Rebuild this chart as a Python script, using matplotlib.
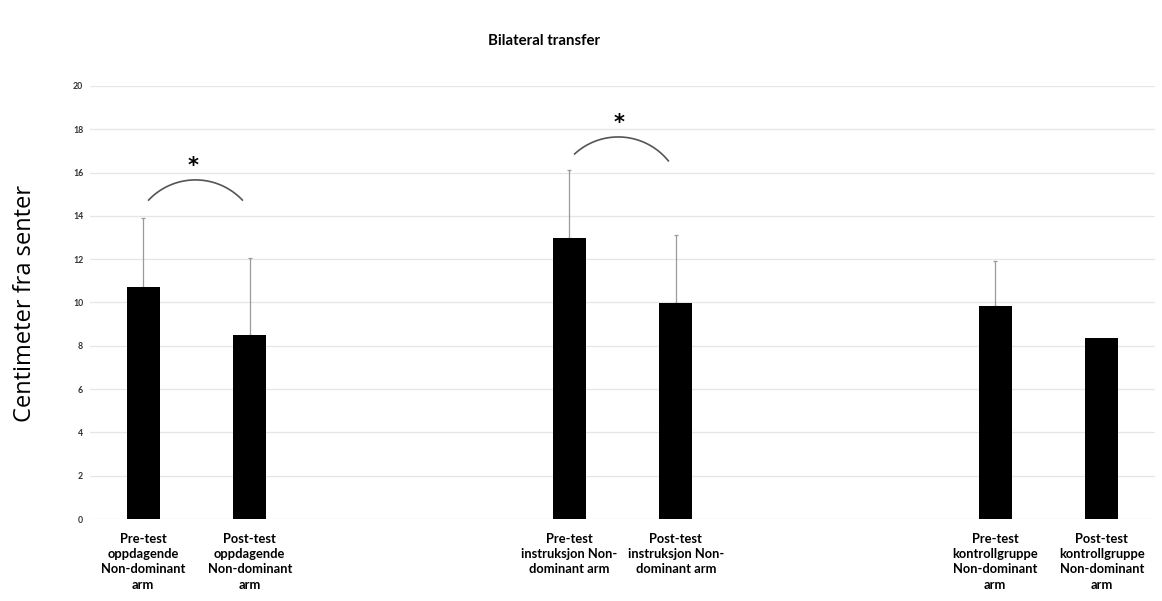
import numpy as np
import matplotlib
matplotlib.use("Agg")
import matplotlib.pyplot as plt

# Category slots (Excel-style layout with empty gaps between groups)
slot_labels = [
    "Pre-test\noppdagende\nNon-dominant\narm",
    "Post-test\noppdagende\nNon-dominant\narm",
    "", "",
    "Pre-test\ninstruksjon Non-\ndominant arm",
    "Post-test\ninstruksjon Non-\ndominant arm",
    "", "",
    "Pre-test\nkontrollgruppe\nNon-dominant\narm",
    "Post-test\nkontrollgruppe\nNon-dominant\narm",
]
means = [10.72, 8.50, np.nan, np.nan, 12.98, 9.98, np.nan, np.nan, 9.84, 8.36]
errors = [3.18, 3.55, 0, 0, 3.14, 3.14, 0, 0, 2.08, 0.0]
yticks = [0, 2, 4, 6, 8, 10, 12, 14, 16, 18, 20]

# significance brackets: (left slot, right slot, left end y, right end y, peak y)
sig_pairs = [(0, 1, 14.73, 14.73, 15.66), (4, 5, 16.86, 16.54, 17.64)]

plt.rcParams["font.family"] = ["Lato", "DejaVu Sans"]

fig = plt.figure(figsize=(11.62, 6.01), dpi=100)
ax = fig.add_axes([0.0775, 0.1364, 0.9165, 0.7206])

x = np.arange(len(slot_labels))
vals = np.array(means, dtype=float)
mask = ~np.isnan(vals)

ax.bar(x[mask], vals[mask], width=0.31, color="black", zorder=3)
err = np.array(errors)
show = mask & (err > 0)
ax.errorbar(x[show], vals[show], yerr=[np.zeros(show.sum()), err[show]],
            fmt="none", ecolor="#9a9a9a", elinewidth=0.9, capsize=1.2,
            capthick=0.9, zorder=2)

ax.set_xlim(-0.5, len(slot_labels) - 0.5)
ax.set_ylim(0, 20)
ax.set_yticks(yticks)
ax.set_yticklabels([str(t) for t in yticks], fontsize=6.3, fontweight="bold",
                   color="#333333")
ax.set_xticks(x)
ax.set_xticklabels(slot_labels, fontsize=9.3, fontweight="bold",
                   linespacing=1.32)
ax.tick_params(axis="both", length=0)
ax.tick_params(axis="y", pad=5)
ax.tick_params(axis="x", pad=10)
ax.grid(axis="y", color="#e6e6e6", linewidth=0.9, zorder=0)
for s in ax.spines.values():
    s.set_visible(False)

fig.text(25 / 1162, 1 - 303 / 601, "Centimeter fra senter", rotation=90,
         ha="center", va="center", fontsize=17,
         family=["Open Sans", "DejaVu Sans"])
fig.text(544 / 1162, 1 - 41 / 601, "Bilateral transfer", ha="center",
         va="center", fontsize=10.8, fontweight="bold")

# Curved brackets with an asterisk above
fig.canvas.draw()
for xl_slot, xr_slot, yl, yr, ypk in sig_pairs:
    xl = xl_slot + 0.05
    xr = xr_slot - 0.07
    pl = ax.transData.transform((xl, yl))
    pr = ax.transData.transform((xr, yr))
    pk = ax.transData.transform(((xl + xr) / 2, ypk))
    # circle through the three pixel points
    (x1, y1), (x2, y2), (x3, y3) = pl, pk, pr
    d = 2 * (x1 * (y2 - y3) + x2 * (y3 - y1) + x3 * (y1 - y2))
    ux = ((x1**2 + y1**2) * (y2 - y3) + (x2**2 + y2**2) * (y3 - y1)
          + (x3**2 + y3**2) * (y1 - y2)) / d
    uy = ((x1**2 + y1**2) * (x3 - x2) + (x2**2 + y2**2) * (x1 - x3)
          + (x3**2 + y3**2) * (x2 - x1)) / d
    r = np.hypot(x1 - ux, y1 - uy)
    a1 = np.arctan2(y1 - uy, x1 - ux)
    a3 = np.arctan2(y3 - uy, x3 - ux)
    ang = np.linspace(a1, a3, 80)
    pts = np.column_stack([ux + r * np.cos(ang), uy + r * np.sin(ang)])
    dpts = ax.transData.inverted().transform(pts)
    ax.plot(dpts[:, 0], dpts[:, 1], color="#555555", lw=1.2, zorder=4,
            clip_on=False)
    ax.text((xl + xr) / 2 - 0.02, ypk + 0.18, "*", ha="center", va="bottom",
            fontsize=15, fontweight="bold", family="DejaVu Sans")

fig.savefig("out.png", dpi=100, facecolor="white")
